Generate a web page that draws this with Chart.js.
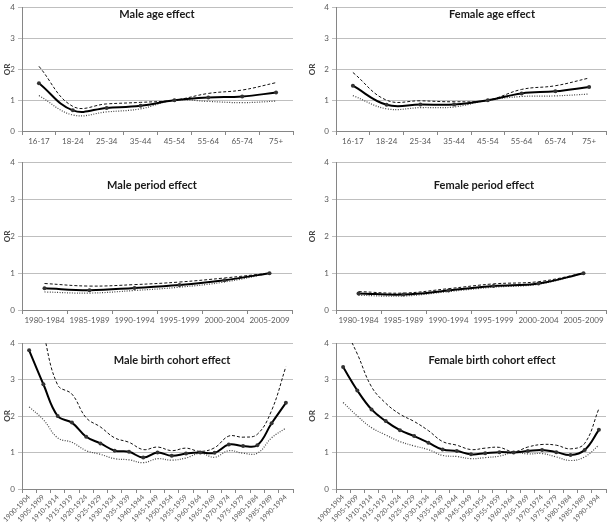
<!DOCTYPE html>
<html>
<head>
<meta charset="utf-8">
<script src="https://cdn.jsdelivr.net/npm/chart.js@4/dist/chart.umd.min.js"></script>
<style>
  body { margin: 0; background: #fff; width: 610px; height: 522px; position: relative; overflow: hidden; }
  .panel { position: absolute; }
</style>
</head>
<body>
<div class="panel" style="left:0;top:0;width:300px;height:155px"><canvas id="maleAge"></canvas></div>
<div class="panel" style="left:305px;top:0;width:305px;height:155px"><canvas id="femaleAge"></canvas></div>
<div class="panel" style="left:0;top:155px;width:300px;height:180px"><canvas id="malePeriod"></canvas></div>
<div class="panel" style="left:305px;top:155px;width:305px;height:180px"><canvas id="femalePeriod"></canvas></div>
<div class="panel" style="left:0;top:335px;width:300px;height:187px"><canvas id="maleCohort"></canvas></div>
<div class="panel" style="left:305px;top:335px;width:305px;height:187px"><canvas id="femaleCohort"></canvas></div>
<script>
const ageLabels = ['16-17', '18-24', '25-34', '35-44', '45-54', '55-64', '65-74', '75+'];
const periodLabels = ['1980-1984', '1985-1989', '1990-1994', '1995-1999', '2000-2004', '2005-2009'];
const cohortLabels = ['1900-1904', '1905-1909', '1910-1914', '1915-1919', '1920-1924', '1925-1929',
  '1930-1934', '1935-1939', '1940-1944', '1945-1949', '1950-1954', '1955-1959', '1960-1964',
  '1965-1969', '1970-1974', '1975-1979', '1980-1984', '1985-1989', '1990-1994'];
const yTicks = [0, 1, 2, 3, 4];

// odds ratios with upper / lower confidence limits
const maleAgeOR    = [1.55, 0.67, 0.75, 0.82, 1.0, 1.09, 1.12, 1.25];
const maleAgeUpper = [2.1, 0.80, 0.88, 0.93, 1.0, 1.22, 1.33, 1.57];
const maleAgeLower = [1.15, 0.52, 0.62, 0.72, 1.0, 0.96, 0.92, 0.97];

const femaleAgeOR    = [1.47, 0.85, 0.86, 0.86, 1.0, 1.22, 1.29, 1.43];
const femaleAgeUpper = [1.9, 1.0, 0.98, 0.95, 1.0, 1.35, 1.47, 1.72];
const femaleAgeLower = [1.15, 0.72, 0.76, 0.78, 1.0, 1.12, 1.14, 1.2];

const malePeriodOR    = [0.59, 0.54, 0.60, 0.68, 0.81, 1.0];
const malePeriodUpper = [0.72, 0.65, 0.69, 0.76, 0.87, 1.0];
const malePeriodLower = [0.49, 0.46, 0.53, 0.62, 0.76, 1.0];

const femalePeriodOR    = [0.45, 0.42, 0.53, 0.65, 0.72, 1.0];
const femalePeriodUpper = [0.50, 0.46, 0.58, 0.71, 0.77, 1.0];
const femalePeriodLower = [0.40, 0.38, 0.50, 0.62, 0.70, 1.0];

const maleCohortOR    = [3.8, 2.87, 2.0, 1.82, 1.43, 1.25, 1.05, 1.02, 0.86, 1.0, 0.91, 0.97, 1.0, 0.99, 1.22, 1.18, 1.2, 1.8, 2.36];
const maleCohortUpper = [6.0, 4.3, 2.85, 2.6, 1.95, 1.7, 1.4, 1.28, 1.08, 1.15, 1.05, 1.12, 1.03, 1.13, 1.45, 1.42, 1.5, 2.15, 3.35];
const maleCohortLower = [2.25, 1.9, 1.4, 1.28, 1.05, 0.95, 0.83, 0.8, 0.72, 0.83, 0.79, 0.85, 0.98, 0.87, 1.05, 0.98, 0.98, 1.4, 1.67];

const femaleCohortOR    = [3.34, 2.7, 2.18, 1.86, 1.61, 1.45, 1.27, 1.08, 1.04, 0.95, 0.98, 1.01, 1.0, 1.04, 1.07, 1.01, 0.93, 1.07, 1.62];
const femaleCohortUpper = [4.5, 3.7, 2.8, 2.35, 2.05, 1.85, 1.6, 1.3, 1.2, 1.08, 1.12, 1.14, 1.02, 1.15, 1.22, 1.2, 1.1, 1.25, 2.2];
const femaleCohortLower = [2.37, 2.0, 1.68, 1.48, 1.3, 1.18, 1.08, 0.92, 0.89, 0.83, 0.86, 0.9, 1.0, 0.96, 0.97, 0.88, 0.78, 0.88, 1.2];

const FONT = 'Lato, "Open Sans", sans-serif';

// title sits inside the plot area, like the original
const panelTitle = {
  id: 'panelTitle',
  afterDraw(chart, args, o) {
    const ctx = chart.ctx;
    ctx.save();
    ctx.font = 'bold 11px ' + FONT;
    ctx.fillStyle = '#1a1a1a';
    ctx.textAlign = 'center';
    ctx.textBaseline = 'middle';
    ctx.fillText(o.text, o.x, o.y);
    ctx.restore();
  }
};

function drawPanel(id, labels, or, upper, lower, o) {
  new Chart(document.getElementById(id), {
    type: 'line',
    data: {
      labels,
      datasets: [
        { data: or, borderColor: '#000', borderWidth: 2, pointRadius: 2, pointBorderWidth: 0,
          pointBackgroundColor: '#333', tension: 0.4 },
        { data: upper, borderColor: '#111', borderWidth: 1, borderDash: [3, 2],
          pointRadius: 0, tension: 0.4 },
        { data: lower, borderColor: '#444', borderWidth: 1.2, borderDash: [1, 1.5],
          pointRadius: 0, tension: 0.4 }
      ]
    },
    options: {
      responsive: true,
      maintainAspectRatio: false,
      animation: false,
      layout: { padding: { top: o.top, right: o.right, left: 0, bottom: 0 } },
      plugins: {
        legend: { display: false },
        tooltip: { enabled: false },
        panelTitle: { text: o.title, x: o.tx, y: o.ty }
      },
      scales: {
        x: {
          offset: true,
          grid: { offset: true, drawOnChartArea: false, drawTicks: true, tickLength: 4, color: '#868686' },
          border: { color: '#868686' },
          ticks: { color: '#595959', font: { size: o.xfs, family: FONT }, autoSkip: false,
            maxRotation: o.rot, minRotation: o.rot, padding: o.rot ? 0 : 2 },
          afterFit(s) { s.height = o.xh; }
        },
        y: {
          min: yTicks[0],
          max: yTicks[yTicks.length - 1],
          ticks: { stepSize: 1, color: '#595959', font: { size: 8, family: FONT }, padding: 3 },
          grid: { color: '#bfbfbf', tickLength: 4 },
          border: { color: '#868686' },
          title: { display: true, text: 'OR', color: '#404040', padding: { top: 3, bottom: 0 },
            font: { size: 8, weight: 'bold', family: FONT } },
          afterFit(s) { s.width = o.yw; }
        }
      }
    },
    plugins: [panelTitle]
  });
}

drawPanel('maleAge', ageLabels, maleAgeOR, maleAgeUpper, maleAgeLower,
  { title: 'Male age effect', tx: 157, ty: 14, top: 5, right: 7, xh: 24, yw: 22, rot: 0, xfs: 8 });
drawPanel('femaleAge', ageLabels, femaleAgeOR, femaleAgeUpper, femaleAgeLower,
  { title: 'Female age effect', tx: 187, ty: 14, top: 5, right: 2, xh: 24, yw: 31, rot: 0, xfs: 8 });
drawPanel('malePeriod', periodLabels, malePeriodOR, malePeriodUpper, malePeriodLower,
  { title: 'Male period effect', tx: 152, ty: 30, top: 7, right: 8, xh: 25, yw: 22, rot: 0, xfs: 8 });
drawPanel('femalePeriod', periodLabels, femalePeriodOR, femalePeriodUpper, femalePeriodLower,
  { title: 'Female period effect', tx: 179, ty: 30, top: 7, right: 2, xh: 25, yw: 31, rot: 0, xfs: 8 });
drawPanel('maleCohort', cohortLabels, maleCohortOR, maleCohortUpper, maleCohortLower,
  { title: 'Male birth cohort effect', tx: 172, ty: 25, top: 8, right: 7, xh: 33, yw: 22, rot: 45, xfs: 7 });
drawPanel('femaleCohort', cohortLabels, femaleCohortOR, femaleCohortUpper, femaleCohortLower,
  { title: 'Female birth cohort effect', tx: 187, ty: 25, top: 8, right: 2, xh: 33, yw: 31, rot: 45, xfs: 7 });
</script>
</body>
</html>
